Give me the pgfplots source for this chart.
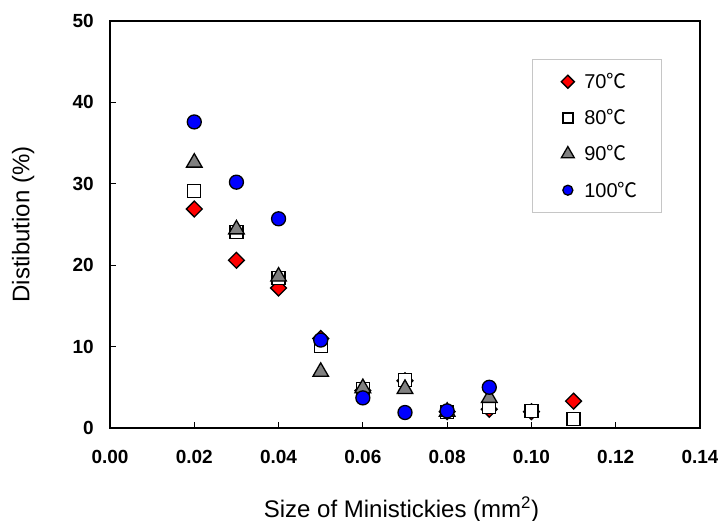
\documentclass[border=0pt]{standalone}
\usepackage{fontspec}
\setmainfont{Liberation Sans}
\newfontfamily\cjk{Noto Sans CJK SC}
\usepackage{pgfplots}
\pgfplotsset{compat=1.18}
\newcommand\lent[1]{\makebox[77pt][l]{#1}}
\pgfplotsset{smalllegend/.style={legend image code/.code={\path (0pt,0pt) (51pt,0pt); \draw[##1, mark size=#1] plot coordinates {(35pt,0pt)};}}}
\begin{document}
\begin{tikzpicture}
\useasboundingbox (-110pt,-93pt) rectangle (608pt,428pt);
\begin{axis}[
  at={(0,0)}, anchor=south west,
  scale only axis, width=590pt, height=407pt,
  xmin=0, xmax=0.14, ymin=0, ymax=50,
  xtick={0,0.02,...,0.14}, ytick={0,10,...,50},
  axis line style={line width=1.5pt},
  tick pos=left, tick align=inside,
  major tick length=6pt,
  every tick/.style={black, line width=1pt},
  /pgf/number format/assume math mode=true,
  xticklabel={\pgfmathprintnumber[fixed,fixed zerofill,precision=2]{\tick}},
  scaled x ticks=false,
  xticklabel style={font=\fontsize{19}{19}\selectfont\bfseries, inner sep=0pt, anchor=north, yshift=-22pt},
  yticklabel style={font=\fontsize{19}{19}\selectfont\bfseries, inner sep=0pt, anchor=east, xshift=-16pt},
  xlabel={Size of Ministickies (mm\textsuperscript{2})},
  ylabel={Distibution (\%)},
  xlabel style={font=\fontsize{24}{24}\selectfont, at={(axis description cs:0.494,-0.219)}, anchor=base},
  ylabel style={font=\fontsize{24}{24}\selectfont, at={(axis description cs:-0.147,0.5)}, anchor=center},
  legend style={draw=gray!45, line width=1pt, at={(0.715,0.907)}, anchor=north west,
    font=\fontsize{20}{20}\selectfont, inner xsep=0pt, inner ysep=14pt,
    row sep=19.4pt, nodes={inner sep=0pt}, cells={anchor=west}},
  legend cell align=left,
  clip=false,
]
\addplot[only marks, mark=square*, mark size=5.6pt, mark options={rotate=45, fill=red, draw=black, line width=1.3pt}, smalllegend=4.6pt]
coordinates {(0.02,26.9)(0.03,20.6)(0.04,17.2)(0.05,11.0)(0.06,4.6)(0.07,5.8)(0.08,2.0)(0.09,2.3)(0.10,2.0)(0.11,3.3)};
\addlegendentry{\lent{70{\cjk ℃}}}
\addplot[only marks, mark=square*, mark size=6.5pt, mark options={fill=white, draw=black, line width=1.3pt}, smalllegend=5pt]
coordinates {(0.02,29.1)(0.03,24.1)(0.04,18.4)(0.05,10.1)(0.06,4.8)(0.07,5.9)(0.08,2.0)(0.09,2.6)(0.10,2.1)(0.11,1.1)};
\addlegendentry{\lent{80{\cjk ℃}}}
\addplot[only marks, mark=triangle*, mark size=9pt, mark options={fill=gray, draw=black, line width=1.3pt}, smalllegend=7.5pt]
coordinates {(0.02,32.6)(0.03,24.4)(0.04,18.6)(0.05,6.9)(0.06,4.9)(0.07,4.8)(0.08,2.0)(0.09,3.7)};
\addlegendentry{\lent{90{\cjk ℃}}}
\addplot[only marks, mark=*, mark size=7pt, mark options={fill=blue, draw=black, line width=1.3pt}, smalllegend=5pt]
coordinates {(0.02,37.6)(0.03,30.2)(0.04,25.7)(0.05,10.8)(0.06,3.7)(0.07,1.9)(0.08,2.1)(0.09,5.0)};
\addlegendentry{\lent{100{\cjk ℃}}}
\end{axis}
\end{tikzpicture}
\end{document}
